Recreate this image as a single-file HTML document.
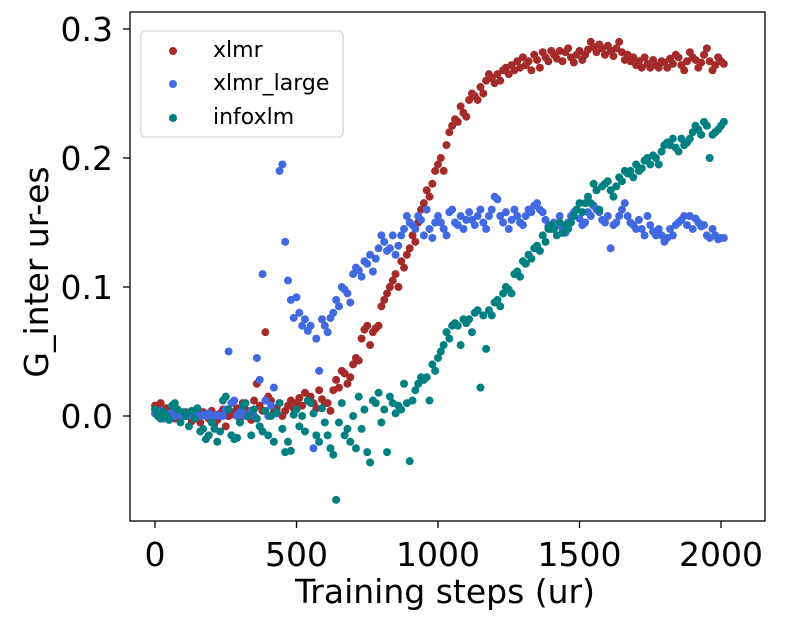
<!DOCTYPE html>
<html><head><meta charset="utf-8"><style>
body{margin:0;background:#fff;}
svg{display:block;font-family:"DejaVu Sans","Liberation Sans",sans-serif;}
</style></head><body>
<svg id="chart" width="789" height="631">
<rect x="130" y="12" width="635" height="509" fill="none" stroke="#000" stroke-width="1.3"/>
<g id="marks"></g>
<g id="axes"></g>
<text x="445" y="603" font-size="33" text-anchor="middle">Training steps (ur)</text>
<text transform="translate(48,272) rotate(-90)" font-size="33" text-anchor="middle">G_inter ur-es</text>
<g>
<rect x="141" y="31" width="202" height="106" rx="4" fill="#fff" fill-opacity="0.8" stroke="#d6d6d6" stroke-width="1.3"/>
<g><circle cx="173" cy="51" r="4" fill="#a52a2a"/><text x="213" y="57" font-size="22">xlmr</text></g>
<g><circle cx="173" cy="84" r="4" fill="#4169e1"/><text x="213" y="90" font-size="22">xlmr_large</text></g>
<g><circle cx="173" cy="118" r="4" fill="#008080"/><text x="213" y="124" font-size="22">infoxlm</text></g>
</g>
</svg>
<script>
const xTicks=[0,500,1000,1500,2000];
const yTicks=[0.0,0.1,0.2,0.3];
const yTickLabels=["0.0","0.1","0.2","0.3"];
const stepSize=10;
const xlmr=[0.008,0.005,0.01,0.003,0.006,0.0,0.004,-0.002,0.005,0.002,0.0,0.003,0.001,-0.004,0.002,0.0,-0.005,0.003,0.0,-0.002,0.004,-0.006,-0.003,0.002,0.005,-0.008,0.0,0.003,0.001,0.006,-0.004,
0.01,0.005,0.0,-0.003,0.012,0.025,0.008,0.004,0.065,0.015,
0.012,0.003,0.006,0.01,0.0,0.004,0.008,0.012,0.006,0.01,0.014,0.008,0.018,0.012,0.015,0.01,0.006,0.02,0.013,0.01,
0.01,0.004,0.02,0.028,0.022,0.035,0.033,0.025,0.03,0.04,
0.045,0.043,0.06,0.067,0.07,0.055,0.065,0.068,0.07,0.085,
0.09,0.095,0.1,0.105,0.11,0.1,0.12,0.115,0.125,0.13,
0.14,0.135,0.15,0.16,0.165,0.175,0.17,0.18,0.19,0.195,
0.2,0.19,0.21,0.22,0.225,0.23,0.228,0.24,0.235,0.232,
0.245,0.25,0.248,0.245,0.255,0.25,0.26,0.265,0.262,0.258,
0.265,0.26,0.268,0.27,0.265,0.272,0.268,0.275,0.27,0.278,
0.272,0.275,0.268,0.28,0.276,0.27,0.282,0.278,0.275,0.283,
0.28,0.277,0.283,0.275,0.282,0.285,0.278,0.274,0.28,0.283,
0.276,0.28,0.284,0.29,0.286,0.282,0.288,0.285,0.28,0.287,
0.283,0.279,0.285,0.29,0.282,0.276,0.28,0.275,0.278,0.272,
0.275,0.27,0.278,0.273,0.27,0.276,0.272,0.27,0.275,0.274,
0.27,0.277,0.273,0.28,0.278,0.272,0.268,0.275,0.282,0.278,
0.276,0.27,0.274,0.28,0.285,0.275,0.268,0.272,0.278,0.275,0.273];
const xlmrLarge=[0.002,0.0,0.004,-0.002,0.001,0.0,0.003,0.0,0.002,0.001,0.0,0.0,0.002,0.0,0.001,0.0,0.0,0.001,0.0,0.002,0.0,0.0,0.001,0.0,0.0,
0.005,0.05,0.01,0.012,0.0,0.003,0.002,0.0,0.001,0.004,0.0,0.045,0.028,0.11,0.012,0.0,
0.008,0.022,0.002,0.19,0.195,0.135,0.105,0.09,0.076,0.092,
0.08,0.07,0.075,0.066,0.07,-0.025,0.06,0.035,0.075,0.07,
0.065,0.076,0.08,0.09,0.085,0.1,0.098,0.095,0.088,0.11,
0.115,0.113,0.108,0.12,0.118,0.125,0.112,0.122,0.13,0.14,
0.135,0.128,0.13,0.14,0.125,0.132,0.14,0.145,0.155,0.15,
0.148,0.145,0.155,0.152,0.14,0.16,0.145,0.138,0.15,0.155,
0.15,0.145,0.14,0.158,0.16,0.15,0.148,0.155,0.145,0.152,
0.158,0.152,0.148,0.155,0.16,0.15,0.145,0.155,0.16,0.17,
0.168,0.155,0.15,0.158,0.145,0.152,0.16,0.155,0.15,0.148,
0.155,0.16,0.158,0.163,0.165,0.16,0.158,0.152,0.147,0.145,
0.15,0.148,0.155,0.145,0.142,0.15,0.155,0.158,0.16,0.153,
0.148,0.15,0.158,0.155,0.163,0.16,0.158,0.152,0.15,0.155,
0.13,0.148,0.15,0.155,0.16,0.165,0.155,0.15,0.148,0.145,
0.152,0.145,0.14,0.155,0.148,0.143,0.14,0.145,0.14,0.135,
0.138,0.145,0.14,0.148,0.15,0.152,0.155,0.148,0.155,0.145,
0.153,0.15,0.147,0.148,0.14,0.138,0.145,0.14,0.137,0.138,0.138];
const infoxlm=[0.005,0.0,-0.002,0.003,0.0,-0.003,0.008,0.01,0.005,-0.005,0.003,0.0,-0.008,0.004,-0.002,0.006,-0.012,-0.01,-0.018,-0.015,-0.005,-0.01,-0.02,-0.012,0.012,0.015,0.005,-0.015,-0.018,-0.017,-0.005,
0.008,0.01,0.0,-0.015,0.005,-0.002,-0.008,-0.012,0.004,-0.015,0.0,-0.02,0.003,0.01,-0.01,-0.028,-0.02,-0.027,0.001,0.005,-0.008,0.0,-0.012,0.012,0.01,0.002,-0.015,-0.02,0.006,-0.005,
-0.015,-0.025,-0.03,-0.065,-0.005,0.01,-0.015,-0.01,-0.02,0.0,-0.025,0.015,-0.01,0.005,-0.028,-0.036,0.012,0.01,0.018,-0.005,0.005,-0.028,0.015,0.01,0.002,0.008,0.005,0.025,0.01,-0.035,
0.012,0.02,0.025,0.03,0.028,0.03,0.012,0.04,0.035,0.045,0.05,0.055,0.065,0.06,0.07,0.072,0.07,0.055,0.075,0.072,0.075,0.065,0.08,0.082,0.022,0.078,0.052,0.082,0.078,0.088,
0.09,0.085,0.095,0.1,0.098,0.095,0.11,0.112,0.108,0.12,0.118,0.125,0.122,0.13,0.132,0.128,0.14,0.135,0.145,0.148,0.145,0.14,0.15,0.142,0.148,0.145,0.15,0.155,0.16,0.165,
0.158,0.165,0.17,0.165,0.18,0.175,0.16,0.178,0.18,0.182,0.175,0.17,0.178,0.185,0.182,0.19,0.188,0.19,0.185,0.195,0.19,0.192,0.198,0.2,0.195,0.202,0.2,0.195,0.205,0.21,
0.212,0.21,0.215,0.208,0.205,0.215,0.21,0.212,0.215,0.22,0.225,0.222,0.218,0.228,0.225,0.2,0.218,0.22,0.222,0.225,0.228];

const NS="http://www.w3.org/2000/svg";
function xScale(v){return 155+v*(721-155)/2000;}
function yScale(v){return 416-v*(416-29)/0.3;}
const marks=document.getElementById('marks');
const axes=document.getElementById('axes');
function drawSeries(vals,color,name){
  const g=document.createElementNS(NS,'g');
  
  
  vals.forEach((v,i)=>{
    const c=document.createElementNS(NS,'circle');
    c.setAttribute('cx',xScale(i*stepSize));
    c.setAttribute('cy',yScale(v));
    c.setAttribute('r',4);
    c.setAttribute('fill',color);
    
    
    g.appendChild(c);
  });
  marks.appendChild(g);
}
drawSeries(xlmr,'#a52a2a','xlmr');
drawSeries(xlmrLarge,'#4169e1','xlmr-large');
drawSeries(infoxlm,'#008080','infoxlm');
xTicks.forEach(t=>{
  const x=xScale(t);
  const l=document.createElementNS(NS,'line');
  l.setAttribute('x1',x);l.setAttribute('x2',x);l.setAttribute('y1',521);l.setAttribute('y2',528);
  l.setAttribute('stroke','#000');l.setAttribute('stroke-width','1.3');
  
  
  axes.appendChild(l);
  const tx=document.createElementNS(NS,'text');
  tx.setAttribute('x',x);tx.setAttribute('y',566);tx.setAttribute('font-size','33');tx.setAttribute('text-anchor','middle');
  tx.textContent=String(t);
  
  
  axes.appendChild(tx);
});
yTicks.forEach((t,i)=>{
  const y=yScale(t);
  const l=document.createElementNS(NS,'line');
  l.setAttribute('x1',123);l.setAttribute('x2',130);l.setAttribute('y1',y);l.setAttribute('y2',y);
  l.setAttribute('stroke','#000');l.setAttribute('stroke-width','1.3');
  
  
  axes.appendChild(l);
  const tx=document.createElementNS(NS,'text');
  tx.setAttribute('x',113);tx.setAttribute('y',y+12);tx.setAttribute('font-size','33');tx.setAttribute('text-anchor','end');
  tx.textContent=yTickLabels[i];
  
  
  axes.appendChild(tx);
});
</script>
</body></html>
